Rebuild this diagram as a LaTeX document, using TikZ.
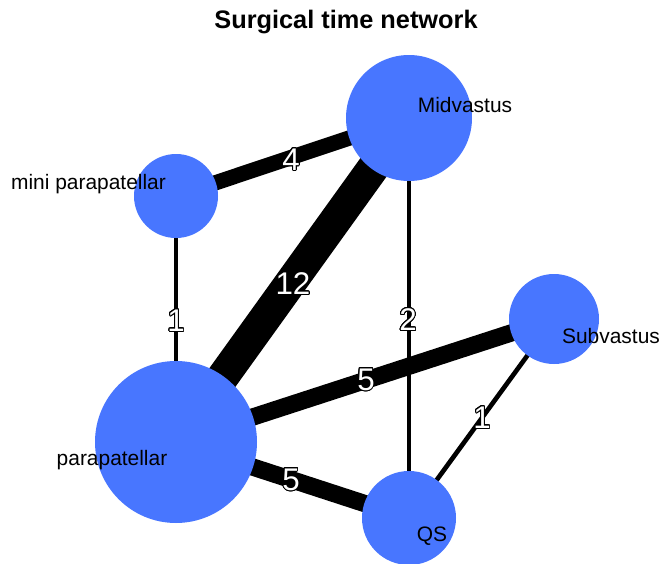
\documentclass[tikz,border=0pt]{standalone}
\usepackage{fontspec}
\setmainfont{Liberation Sans}
\usepackage{contour}
\contourlength{0.7pt}
\contournumber{24}
\definecolor{nodeblue}{HTML}{4876FF}
\begin{document}
\begin{tikzpicture}[x=0.75pt,y=-0.75pt,
  vtx/.style={circle,fill=nodeblue,inner sep=0pt,minimum size=#1},
  lab/.style={font=\fontsize{15.7}{18}\selectfont,text=black,inner sep=0pt},
  edge/.style={line width=#1,draw=black},
  wlab/.style={font=\fontsize{23.5}{26}\selectfont,inner sep=0pt,text=white}]
\useasboundingbox (0,0) rectangle (664,564);
\clip (0,0) rectangle (664,564);
\fill[white] (0,0) rectangle (664,564);
% vertices (positions)
\coordinate (cM) at (409,118);
\coordinate (cm) at (176,196);
\coordinate (cS) at (554,319);
\coordinate (cP) at (176,442);
\coordinate (cQ) at (409,518);
% edges
\draw[edge=11.5pt] (cM) -- (cm);
\draw[edge=24pt] (cM) -- (cP);
\draw[edge=3pt] (cm) -- (cP);
\draw[edge=3.5pt] (cM) -- (cQ);
\draw[edge=13pt] (cP) -- (cS);
\draw[edge=13pt] (cP) -- (cQ);
\draw[edge=3.5pt] (cS) -- (cQ);
% nodes
\node[vtx=94.5pt] (M) at (cM) {};
\node[vtx=63pt] (m) at (cm) {};
\node[vtx=67.5pt] (S) at (cS) {};
\node[vtx=121.5pt] (P) at (cP) {};
\node[vtx=70.5pt] (Q) at (cQ) {};
% node labels
\node[lab] (lM) at (465,105) {Midvastus};
\node[lab] (lm) at (88.5,184) {mini parapatellar};
\node[lab] (lS) at (611,336) {Subvastus};
\node[lab] (lP) at (112,460) {parapatellar};
\node[lab] (lQ) at (432,536) {QS};
% edge labels
\node[wlab] (e1) at (291,160) {\contour{black}{4}};
\node[wlab] (e2) at (293,284) {\contour{black}{12}};
\node[wlab] (e3) at (176,321) {\contour{black}{1}};
\node[wlab] (e4) at (408,320) {\contour{black}{2}};
\node[wlab] (e5) at (366,380) {\contour{black}{5}};
\node[wlab] (e6) at (482,418) {\contour{black}{1}};
\node[wlab] (e7) at (291,480) {\contour{black}{5}};
% title
\node[font=\bfseries\fontsize{19}{22}\selectfont,inner sep=0pt] (title) at (346,22) {Surgical time network};
\end{tikzpicture}
\end{document}
